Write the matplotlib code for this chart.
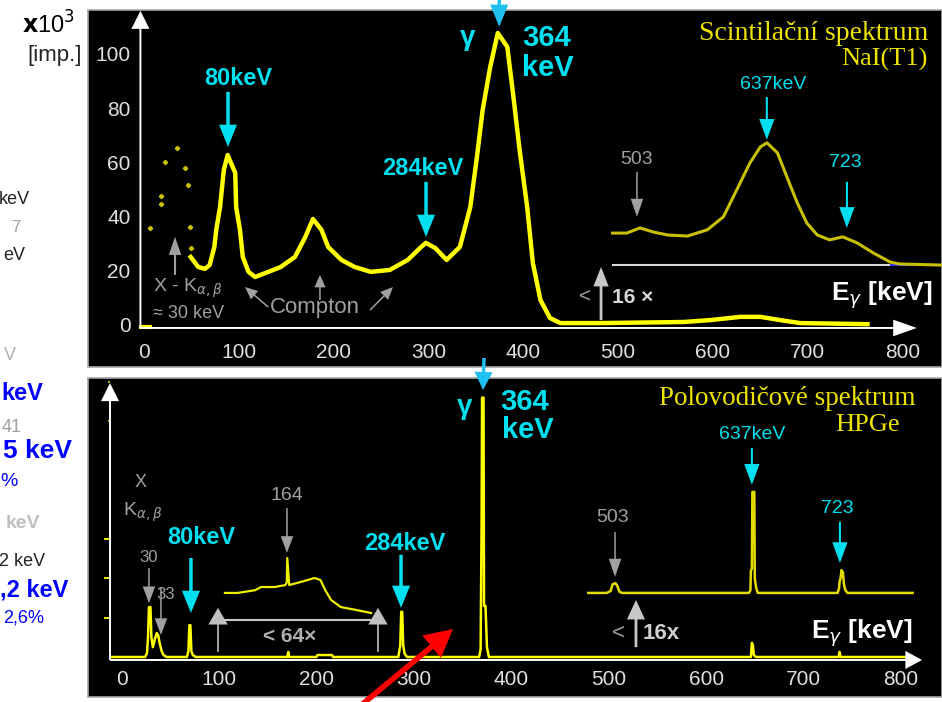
import matplotlib
matplotlib.use('Agg')
import matplotlib.pyplot as plt
from matplotlib.patches import Rectangle

plt.rcParams['font.family'] = ['Liberation Sans', 'DejaVu Sans']
plt.rcParams['mathtext.fontset'] = 'dejavusans'

# ---------------- data: NaI(Tl) spektrum (energie keV, impulzy x10^3)
nai_e = [49, 57, 64, 69, 74, 76, 80, 84, 88, 96, 97, 101, 104, 110, 117, 131, 144, 159, 170, 178,
         187, 194, 208, 222, 239, 259, 278, 291, 297, 307, 319, 333, 344, 351, 357, 365, 373, 383,
         389, 396, 404, 410, 418, 428, 439, 481, 569, 597, 629, 650, 671, 692, 763]
nai_n = [25.1, 21.4, 20.7, 22.1, 28.8, 35.1, 43.5, 57.2, 62.7, 56.1, 43.5, 35.1, 25.1, 19.6, 17.7,
         19.6, 21.4, 25.1, 32.5, 39.1, 35.1, 28.8, 24.0, 21.4, 19.6, 20.3, 24.0, 28.4, 30.3, 28.4,
         24.0, 28.8, 43.5, 62.0, 79.3, 95.2, 107.7, 102.6, 85.6, 64.6, 43.5, 22.9, 9.2, 2.6, 0.7,
         0.7, 1.1, 1.8, 3.0, 3.0, 1.8, 0.7, 0.3]
# rozptylene body pod 50 keV
nai_low_e = [6, 18, 18, 22, 35, 43, 46, 48, 49]
nai_low_n = [35.8, 44.5, 47.5, 60.1, 65.3, 57.9, 51.7, 36.2, 28.4]
nai_start_e = [-3, 6]
nai_start_n = [-0.6, -0.6]

# vyrez zvetseny 16x
nai16_e = [494, 509, 523, 537, 552, 573, 594, 611, 625, 639, 650, 657, 668, 678, 689, 699, 710,
           723, 737, 752, 769, 787, 797, 842]
nai16_n = [33.9, 33.9, 35.8, 34.3, 33.2, 32.8, 35.1, 39.9, 49.8, 59.8, 65.7, 67.2, 63.5, 54.6,
           45.0, 37.6, 33.2, 31.4, 32.5, 30.3, 26.6, 23.2, 22.5, 22.1]
nai16_base = 22.1
nai16_span = [494, 787, 842]

# ---------------- data: HPGe spektrum (relativni jednotky)
hp_e = [-11, 24, 26, 27, 28, 29.5, 30.5, 32, 34, 36, 37.5, 39, 41, 43, 46, 67, 68.5, 69.5, 70.5,
        71.5, 73, 76, 170, 171, 172, 200, 201, 216, 217, 284, 286, 287, 288, 289, 290.5, 293,
        367, 368.5, 369.5, 370, 371.5, 372, 373.5, 375, 377, 646, 647, 648, 649, 651, 736, 737,
        738, 805]
hp_n = [0, 0, 0.1, 0.5, 1.27, 1.27, 0.5, 0.25, 0.45, 0.61, 0.55, 0.35, 0.15, 0.05, 0, 0, 0.15,
        0.81, 0.81, 0.15, 0.05, 0, 0, 0.13, 0, 0, 0.05, 0.05, 0, 0, 0.3, 1.15, 1.15, 0.3, 0.08, 0,
        0, 0.2, 3.4, 6.6, 6.6, 1.3, 1.3, 0.25, 0, 0, 0.36, 0.3, 0.05, 0, 0, 0.13, 0, 0]

hp16_e = [479, 498, 502, 504, 507, 509, 511, 514, 644, 645.5, 646, 647, 647.5, 649.5, 650, 651.5,
          653, 735, 736.5, 737, 738, 739, 740.5, 741.5, 743, 745, 812]
hp16_n = [1.63, 1.63, 1.68, 1.85, 1.88, 1.8, 1.66, 1.63, 1.63, 1.7, 2.2, 2.25, 4.2, 4.2, 2.0, 1.75,
          1.63, 1.63, 1.75, 1.91, 2.0, 2.21, 2.15, 1.85, 1.7, 1.63, 1.63]

hp64_e = [106, 119, 137, 143, 157, 168, 169.5, 170, 172, 184, 198, 204, 209, 215, 225, 240, 256]
hp64_n = [1.63, 1.63, 1.70, 1.78, 1.78, 1.83, 1.9, 2.52, 1.83, 1.91, 2.01, 1.96, 1.70, 1.45,
          1.27, 1.20, 1.12]

x_ticks = [0, 100, 200, 300, 400, 500, 600, 700, 800]
y_ticks_nai = [0, 20, 40, 60, 80, 100]

YELLOW = '#ffff00'
OLIVE = '#c8c000'
CYAN = '#00e0f0'
SKY = '#20c0f0'
GRAY = '#a0a0a0'
LGRAY = '#c8c8c8'
TICK = '#e0e0e0'


def arrow(ax, x0, y0, x1, y1, color, shaft=1.1, hl=11, hw=8, coords='data'):
    ax.annotate('', xy=(x1, y1), xytext=(x0, y0), xycoords=coords, textcoords=coords,
                arrowprops=dict(arrowstyle='simple,head_length=%g,head_width=%g,tail_width=%g'
                                % (hl, hw, shaft),
                                fc=color, ec='none', lw=0, shrinkA=0, shrinkB=0,
                                mutation_scale=1),
                annotation_clip=False)


fig = plt.figure(figsize=(9.42, 7.02), dpi=100)
fig.patch.set_facecolor('white')

# ********************************************  horni panel - scintilacni spektrum
ax1 = fig.add_axes([88 / 942, 1 - 367 / 702, 854 / 942, 357 / 702])
ax1.set_facecolor('black')
ax1.set_xlim(-59.3, 841.6)
ax1.set_ylim(-15.5, 116.2)
ax1.spines['left'].set_position(('data', -4))
ax1.spines['bottom'].set_position(('data', -1.1))
for s in ax1.spines.values():
    s.set_visible(False)
ax1.add_patch(Rectangle((0, 0), 1, 1, transform=ax1.transAxes, fill=False, ec='#a8a8a8',
                        lw=1.2, clip_on=False))
ax1.set_xticks(x_ticks)
ax1.set_yticks(y_ticks_nai)
ax1.tick_params(axis='both', length=0, labelcolor=TICK, labelsize=15)
ax1.tick_params(axis='x', pad=11)
ax1.tick_params(axis='y', pad=7)

arrow(ax1, -4, -1.1, -4, 115.9, 'white', shaft=1.4, hl=13, hw=13)
arrow(ax1, -4, -1.1, 815, -1.1, 'white', shaft=1.4, hl=17, hw=12)

ax1.plot(nai_e, nai_n, color=YELLOW, lw=3.2)
ax1.plot(nai_low_e, nai_low_n, ls='none', marker='D', ms=2.2, color=OLIVE)
ax1.plot(nai_start_e, nai_start_n, color=YELLOW, lw=3)

ax1.hlines(nai16_base, nai16_span[0], nai16_span[1], color='#d8d8d8', lw=1.5)
ax1.hlines(nai16_base, nai16_span[1], nai16_span[2], color='#2828ff', lw=1.5)
ax1.plot(nai16_e, nai16_n, color=OLIVE, lw=2.2)

ax1.text(99, 91.1, '80keV', color=CYAN, fontsize=17, fontweight='bold', ha='center', va='center')
arrow(ax1, 88.4, 86.0, 88.4, 65.7, CYAN, shaft=2.5, hl=16, hw=13)
ax1.text(294, 57.9, '284keV', color=CYAN, fontsize=17, fontweight='bold', ha='center', va='center')
arrow(ax1, 297.3, 52.8, 297.3, 32.5, CYAN, shaft=2.5, hl=16, hw=13)
ax1.text(341.6, 105.9, 'γ', color=CYAN, fontsize=20, fontweight='bold', ha='center', va='center')
ax1.text(399, 105.9, '364', color=CYAN, fontsize=21, fontweight='bold', ha='left', va='center')
ax1.text(399, 94.8, 'keV', color=CYAN, fontsize=21, fontweight='bold', ha='left', va='center')
arrow(ax1, 374.5, 122, 374.5, 110, SKY, shaft=2.5, hl=16, hw=13)

ax1.text(9, 13.7, r'X - K$_{\alpha,\beta}$', color=GRAY, fontsize=14, ha='left', va='center')
ax1.text(9, 4.4, '≈ 30 keV', color=GRAY, fontsize=13, ha='left', va='center')
arrow(ax1, 32.5, 18.5, 32.5, 32.5, GRAY, shaft=1.5, hl=13, hw=9)
ax1.text(180.5, 6.3, 'Compton', color=GRAY, fontsize=16, ha='center', va='center')
arrow(ax1, 130.8, 6.6, 106.4, 14.0, GRAY, shaft=1.1, hl=9, hw=8)
arrow(ax1, 185.4, 9.2, 185.4, 18.5, GRAY, shaft=1.1, hl=9, hw=8)
arrow(ax1, 238.2, 5.5, 262.4, 14.0, GRAY, shaft=1.1, hl=9, hw=8)

ax1.text(519.8, 60.9, '503', color=GRAY, fontsize=14, ha='center', va='center')
arrow(ax1, 519.8, 56.5, 519.8, 39.9, GRAY, shaft=1.1, hl=13, hw=9)
ax1.text(663, 88.6, '637keV', color=CYAN, fontsize=14, ha='center', va='center')
arrow(ax1, 656.8, 84.1, 656.8, 68.3, CYAN, shaft=1.5, hl=15, hw=11)
ax1.text(739.2, 59.8, '723', color=CYAN, fontsize=14, ha='center', va='center')
arrow(ax1, 741.3, 52.8, 741.3, 35.8, CYAN, shaft=1.5, hl=15, hw=11)

ax1.text(465, 10.3, '<', color=GRAY, fontsize=15, ha='center', va='center')
arrow(ax1, 481.9, 1.8, 481.9, 21.4, LGRAY, shaft=2, hl=14, hw=11)
ax1.text(493.5, 10.3, '16 ×', color='#d8d8d8', fontsize=15, fontweight='bold', ha='left',
         va='center')
ax1.text(832, 11.1, r'E$_\gamma$ [keV]', color='white', fontsize=19, fontweight='bold',
         ha='right', va='center')
ax1.text(826.8, 107.7, 'Scintilační spektrum', color='#ece400', fontsize=20,
         family='Liberation Serif', ha='right', va='center')
ax1.text(826, 97.8, 'NaI(T1)', color='#ece400', fontsize=19, family='Liberation Serif',
         ha='right', va='center')

# ********************************************  dolni panel - polovodicove spektrum
ax2 = fig.add_axes([88 / 942, 1 - 697 / 702, 854 / 942, 319 / 702])
ax2.set_facecolor('black')
ax2.set_xlim(-34.6, 842.2)
ax2.set_ylim(-1.018, 7.099)
ax2.spines['left'].set_position(('data', -12))
ax2.spines['bottom'].set_position(('data', -0.076))
for s in ax2.spines.values():
    s.set_visible(False)
ax2.add_patch(Rectangle((0, 0), 1, 1, transform=ax2.transAxes, fill=False, ec='#a8a8a8',
                        lw=1.2, clip_on=False))
ax2.set_xticks(x_ticks)
ax2.set_yticks([1, 2, 3])
ax2.set_yticks([6, 7], minor=True)
ax2.tick_params(axis='x', length=0, pad=7, labelcolor=TICK, labelsize=15)
ax2.tick_params(axis='y', which='major', length=4, width=1.3, color=YELLOW, labelleft=False)
ax2.tick_params(axis='y', which='minor', length=1.5, width=1.3, color=OLIVE, labelleft=False)

arrow(ax2, -12, -0.076, -12, 6.97, 'white', shaft=1.4, hl=13, hw=13)
arrow(ax2, -12, -0.076, 821.7, -0.076, 'white', shaft=1.4, hl=12, hw=13)

ax2.plot(hp_e, hp_n, color=YELLOW, lw=1.8)
ax2.plot(hp16_e, hp16_n, color='#e4dc00', lw=1.8)
ax2.plot(hp64_e, hp64_n, color='#eeee00', lw=1.6)

ax2.text(19.8, 4.45, 'X', color=GRAY, fontsize=13, ha='center', va='center')
ax2.text(21.9, 3.69, r'K$_{\alpha,\beta}$', color=GRAY, fontsize=14, ha='center', va='center')
ax2.text(28, 2.54, '30', color=GRAY, fontsize=12, ha='center', va='center')
arrow(ax2, 28, 2.26, 28, 1.37, GRAY, shaft=1.1, hl=12, hw=9)
ax2.text(45.5, 1.58, '33', color=GRAY, fontsize=12, ha='center', va='center')
arrow(ax2, 40.3, 1.78, 40.3, 0.56, GRAY, shaft=1.1, hl=12, hw=9)
ax2.text(81.4, 3.05, '80keV', color=CYAN, fontsize=17, fontweight='bold', ha='center',
         va='center')
arrow(ax2, 71.1, 2.52, 71.1, 1.12, CYAN, shaft=2.5, hl=16, hw=13)
ax2.text(169.7, 4.12, '164', color=GRAY, fontsize=14, ha='center', va='center')
arrow(ax2, 169.7, 3.79, 169.7, 2.65, GRAY, shaft=1.1, hl=12, hw=9)
ax2.text(290.9, 2.90, '284keV', color=CYAN, fontsize=17, fontweight='bold', ha='center',
         va='center')
arrow(ax2, 286.8, 2.60, 286.8, 1.25, CYAN, shaft=2.5, hl=16, hw=13)

ax2.hlines(0.94, 98.9, 263.1, color=LGRAY, lw=1.5)
arrow(ax2, 98.9, 0.13, 98.9, 1.25, '#c0c0c0', shaft=1.2, hl=12, hw=14)
arrow(ax2, 263.1, 0.13, 263.1, 1.25, '#c0c0c0', shaft=1.2, hl=12, hw=14)
ax2.text(172.8, 0.51, '< 64×', color='#b0b0b0', fontsize=15, fontweight='bold', ha='center',
         va='center')

ax2.text(352.4, 6.36, 'γ', color=CYAN, fontsize=20, fontweight='bold', ha='center', va='center')
ax2.text(388.4, 6.49, '364', color=CYAN, fontsize=21, fontweight='bold', ha='left', va='center')
ax2.text(390.4, 5.78, 'keV', color=CYAN, fontsize=21, fontweight='bold', ha='left', va='center')

ax2.text(504.4, 3.54, '503', color=GRAY, fontsize=14, ha='center', va='center')
arrow(ax2, 506.5, 3.18, 506.5, 2.04, GRAY, shaft=1.1, hl=13, hw=9)
ax2.text(647, 5.65, '637keV', color=CYAN, fontsize=14, ha='center', va='center')
arrow(ax2, 647, 5.32, 647, 4.38, CYAN, shaft=1.5, hl=15, hw=11)
ax2.text(734.3, 3.77, '723', color=CYAN, fontsize=14, ha='center', va='center')
arrow(ax2, 737.4, 3.44, 737.4, 2.39, CYAN, shaft=1.5, hl=15, hw=11)

ax2.text(509.5, 0.61, '<', color=GRAY, fontsize=16, ha='center', va='center')
arrow(ax2, 528, 0.25, 528, 1.45, LGRAY, shaft=2, hl=14, hw=13)
ax2.text(535.2, 0.61, '16x', color='#d0d0d0', fontsize=16, fontweight='bold', ha='left',
         va='center')
ax2.text(812.4, 0.61, r'E$_\gamma$ [keV]', color='white', fontsize=19, fontweight='bold',
         ha='right', va='center')
ax2.text(814.5, 6.59, 'Polovodičové spektrum', color='#ece400', fontsize=19.5,
         family='Liberation Serif', ha='right', va='center')
ax2.text(799.1, 5.90, 'HPGe', color='#ece400', fontsize=19, family='Liberation Serif',
         ha='right', va='center')

# sipka 364 keV mezi panely a cervena sipka
arrow(ax2, 484, 344, 483, 312, SKY, shaft=2.5, hl=13, hw=13, coords='figure pixels')
arrow(ax2, 359, -5, 453, 73, '#ff0000', shaft=4, hl=20, hw=21, coords='figure pixels')

# ********************************************  popisky vlevo (oriznute)
fig.text(75 / 942, 1 - 25 / 702, r'$\mathbf{x}$10$^3$', color='black', fontsize=17, ha='right',
         va='center')
fig.text(82 / 942, 1 - 55 / 702, '[imp.]', color='#222222', fontsize=16, ha='right', va='center')
left_txt = [('keV', 30, 200, '#222222', 'normal', 13),
            ('7', 20, 228, '#a0a0a0', 'normal', 12),
            ('eV', 25, 255, '#222222', 'normal', 13),
            ('V', 16, 355, '#b0b0b0', 'normal', 13),
            ('keV', 43, 393, '#0000ff', 'bold', 17),
            ('41', 22, 428, '#a0a0a0', 'normal', 13),
            ('5 keV', 72, 451, '#0000ff', 'bold', 19),
            ('%', 18, 482, '#0000ff', 'normal', 14),
            ('keV', 40, 523, '#c0c0c0', 'bold', 14),
            ('2 keV', 45, 562, '#222222', 'normal', 13),
            (',2 keV', 68, 590, '#0000ff', 'bold', 17),
            ('2,6%', 44, 618, '#0000ff', 'normal', 13)]
for t, x, y, c, w, fs in left_txt:
    fig.text(x / 942, 1 - y / 702, t, color=c, fontweight=w, fontsize=fs, ha='right', va='center')

plt.savefig('out.png', dpi=100)
